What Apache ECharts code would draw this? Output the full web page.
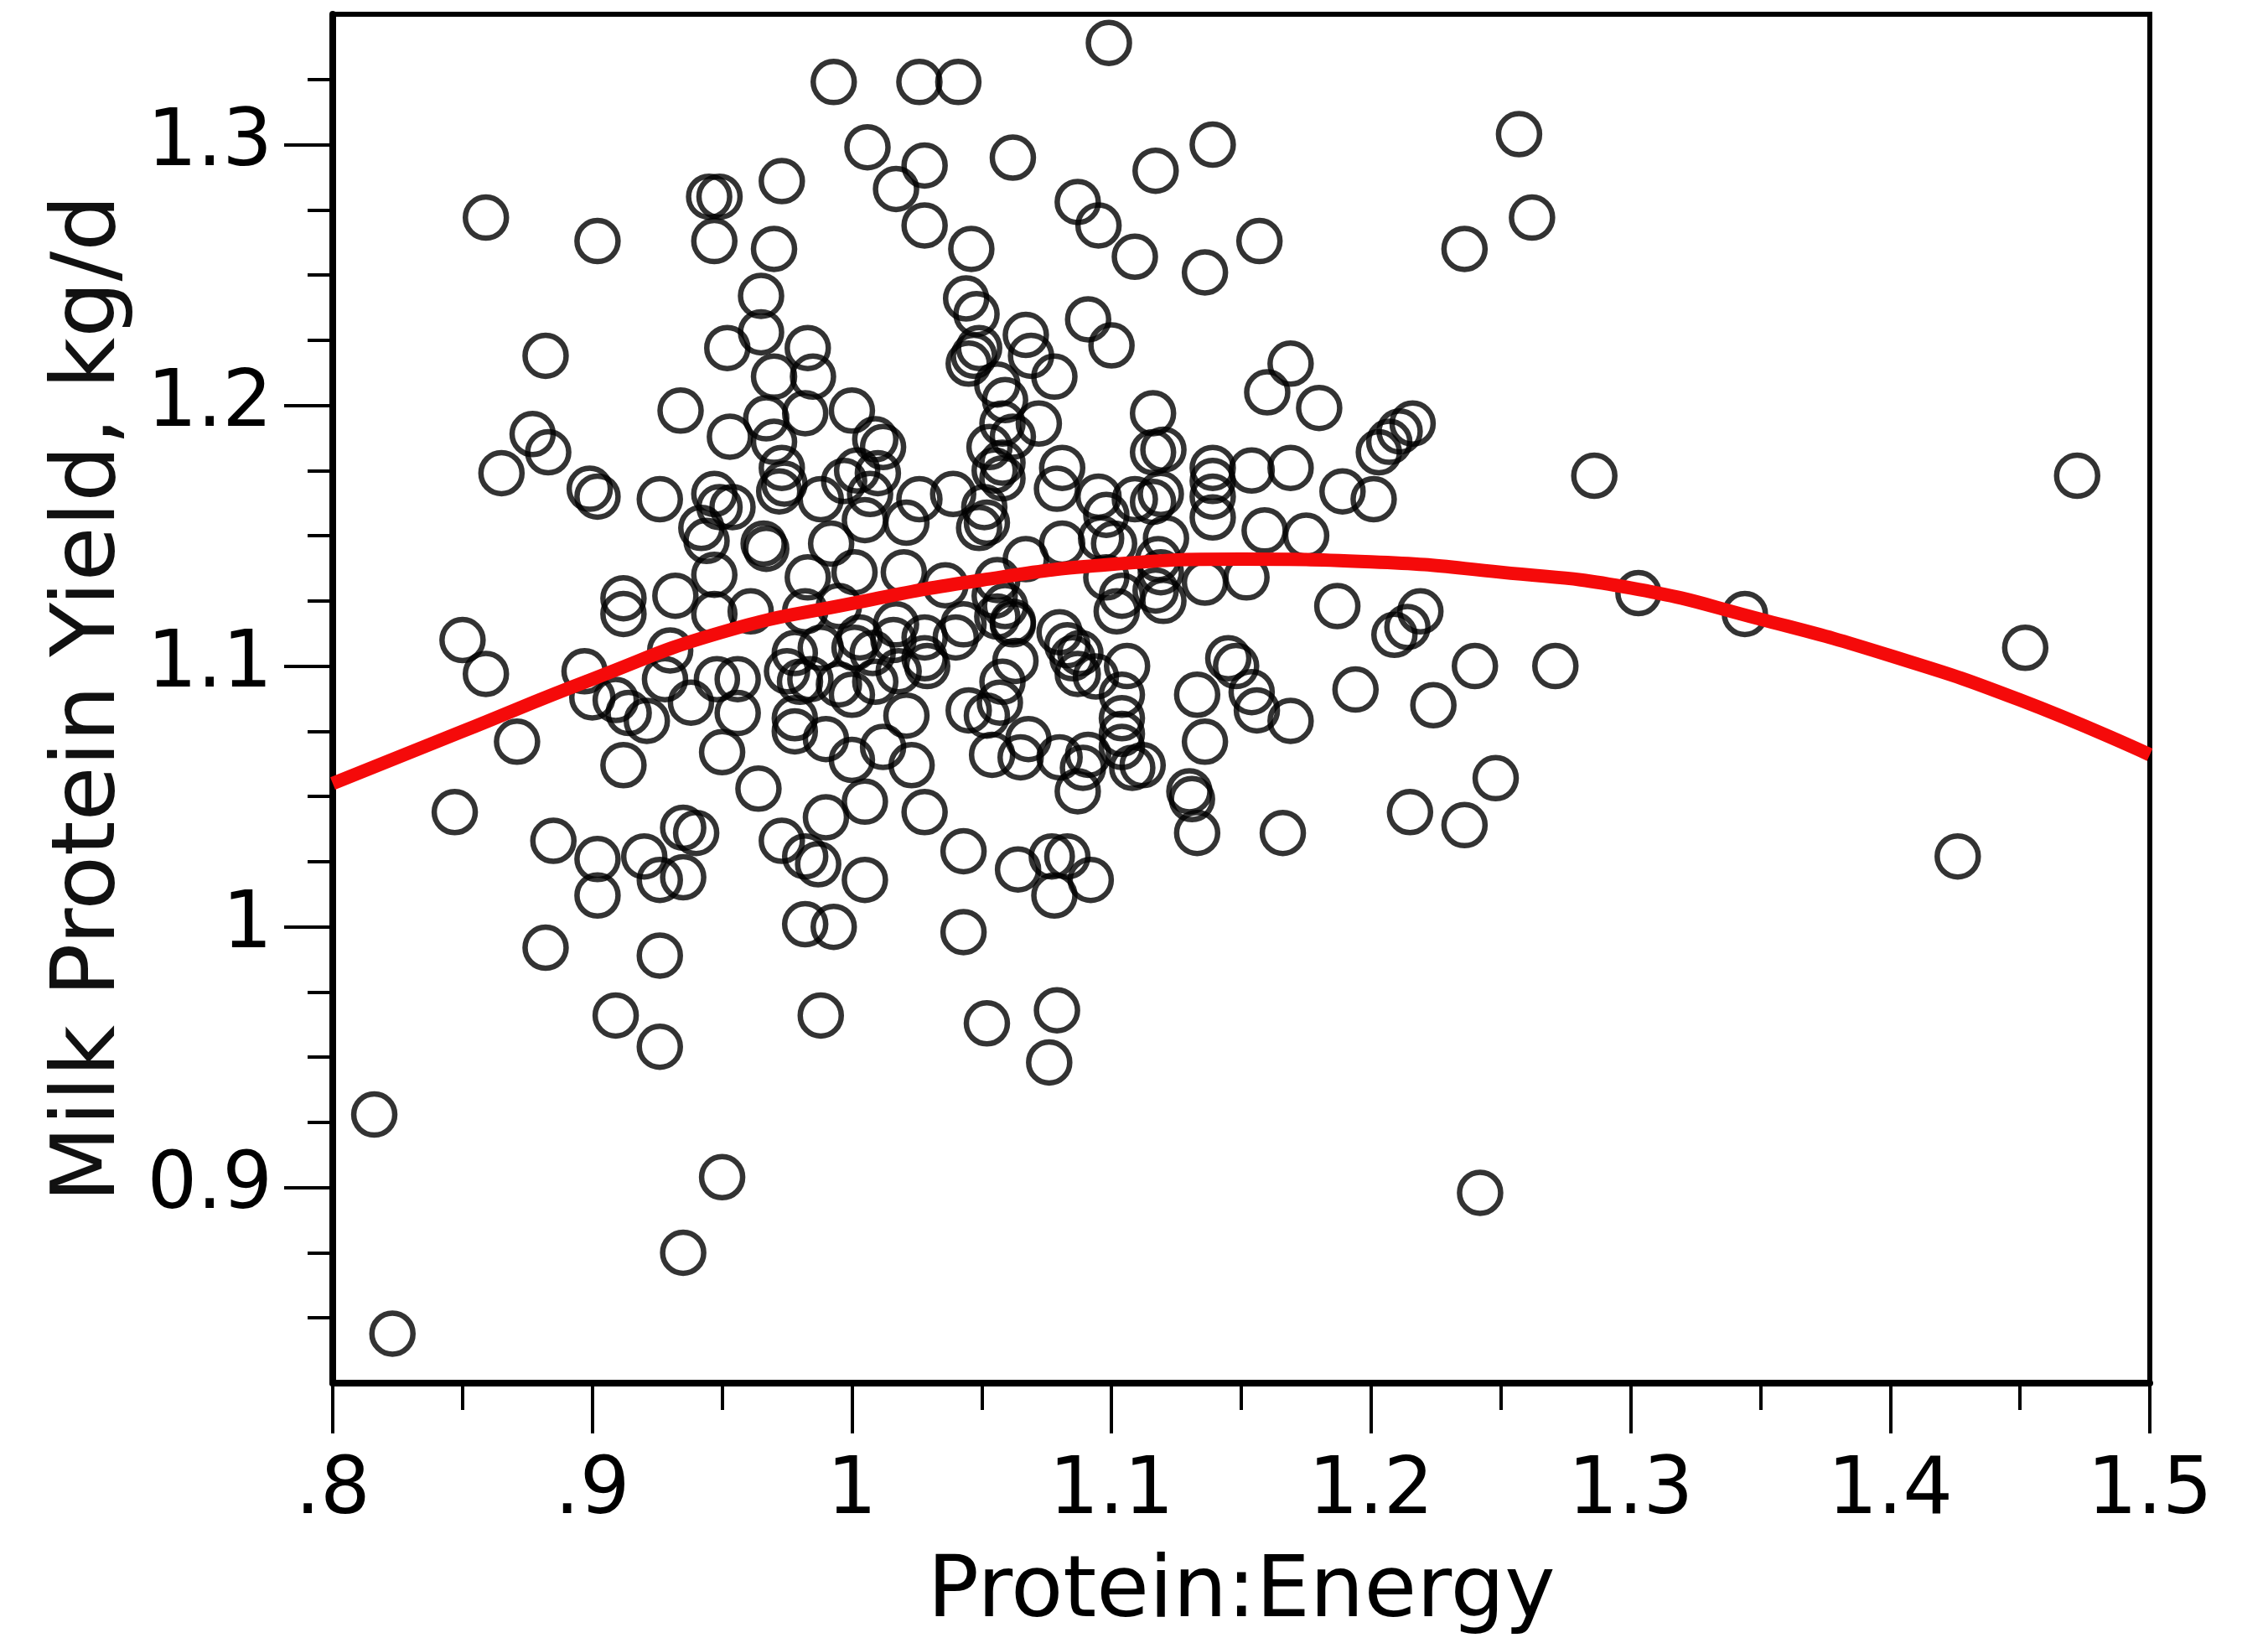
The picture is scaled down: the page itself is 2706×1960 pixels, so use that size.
<!DOCTYPE html>
<html><head><meta charset="utf-8">
<script src="https://cdn.jsdelivr.net/npm/echarts@6/dist/echarts.min.js"></script>
<style>html,body{margin:0;padding:0;background:#fff}#chart{width:2706px;height:1960px}</style>
</head><body><div id="chart"></div>
<script>
// ---- axis ticks / labels ----
const xTickValues = [0.8, 0.9, 1.0, 1.1, 1.2, 1.3, 1.4, 1.5];
const xTickLabels = ['.8', '.9', '1', '1.1', '1.2', '1.3', '1.4', '1.5'];
const xMinorTicks = [0.85, 0.95, 1.05, 1.15, 1.25, 1.35, 1.45];
const yTickValues = [0.9, 1.0, 1.1, 1.2, 1.3];
const yTickLabels = ['0.9', '1', '1.1', '1.2', '1.3'];
const yMinorTicks = [0.85, 0.875, 0.925, 0.95, 0.975, 1.025, 1.05, 1.075, 1.125, 1.15, 1.175, 1.225, 1.25, 1.275, 1.325];

// ---- observations [Protein:Energy, Milk protein yield] ----
const pointsBelow090 = [
  [0.816,0.928],[0.823,0.844],[0.850,1.110],[0.847,1.044],[0.859,1.272],[0.859,1.097],
  [0.865,1.174],[0.871,1.071],[0.877,1.189],[0.882,1.219],[0.883,1.182],[0.885,1.033],
  [0.882,0.992],[0.897,1.098]
];
const points090to095 = [
  [0.900,1.088],[0.899,1.168],[0.902,1.165],[0.902,1.263],[0.902,1.026],[0.902,1.012],
  [0.909,0.966],[0.912,1.062],[0.912,1.126],[0.912,1.120],[0.909,1.087],[0.914,1.082],
  [0.921,1.079],[0.920,1.027],[0.926,1.018],[0.926,0.989],[0.926,0.954],[0.926,1.164],
  [0.932,1.127],[0.928,1.095],[0.930,1.106],[0.934,1.198],[0.935,1.019],[0.935,1.038],
  [0.940,1.036],[0.935,0.875],[0.950,0.904],[0.942,1.153],[0.944,1.148],[0.947,1.166],
  [0.949,1.161],[0.945,1.280],[0.949,1.280],[0.947,1.263],[0.947,1.135],[0.947,1.120],
  [0.938,1.086],[0.948,1.095],[0.950,1.067]
];
const points095to100 = [
  [0.952,1.222],[0.953,1.188],[0.956,1.095],[0.956,1.082],[0.954,1.161],[0.961,1.121],
  [0.964,1.053],[0.965,1.242],[0.965,1.228],[0.966,1.147],[0.967,1.145],[0.970,1.260],
  [0.973,1.286],[0.970,1.211],[0.967,1.195],[0.970,1.186],[0.973,1.176],[0.974,1.170],
  [0.973,1.033],[0.975,1.098],[0.978,1.080],[0.978,1.075],[0.980,1.094],[0.982,1.027],
  [0.982,1.001],[0.983,1.222],[0.985,1.211],[0.982,1.197],[0.983,1.134],[0.987,1.024],
  [0.988,0.966],[0.990,1.042],[0.990,1.072],[0.988,1.164],[0.993,1.324],[0.993,1.000],
  [0.992,1.147],[0.995,1.123],[0.997,1.171],[0.978,1.105],[0.988,1.107],[0.984,1.095],
  [0.995,1.093],[0.982,1.121],[0.972,1.167]
];
const points100to105 = [
  [1.000,1.198],[1.001,1.136],[1.000,1.089],[1.005,1.048],[1.005,1.018],[1.006,1.299],
  [1.009,1.187],[1.012,1.184],[1.007,1.166],[1.005,1.156],[1.003,1.111],[1.008,1.105],
  [1.009,1.094],[1.012,1.069],[1.000,1.064],[1.001,1.107],[1.016,1.110],[1.018,1.098],
  [1.017,1.283],[1.026,1.324],[1.028,1.292],[1.028,1.269],[1.026,1.164],[1.021,1.155],
  [1.020,1.136],[1.017,1.116],[1.021,1.081],[1.023,1.062],[1.028,1.044],[1.028,1.103],
  [1.029,1.100],[1.028,1.111],[1.041,1.324],[1.039,1.166],[1.040,1.111],[1.043,1.116],
  [1.043,1.029],[1.043,0.998],[1.045,1.083],[1.044,1.241],[1.046,1.260],[1.048,1.235],
  [1.045,1.216],[1.049,1.222],[1.047,1.219],[1.036,1.131],[1.010,1.174],[1.002,1.175]
];
const points105to110 = [
  [1.051,1.161],[1.052,1.155],[1.049,1.153],[1.056,1.208],[1.059,1.202],[1.062,1.295],
  [1.055,1.175],[1.058,1.172],[1.058,1.178],[1.062,1.188],[1.058,1.193],[1.053,1.184],
  [1.052,1.081],[1.052,0.963],[1.054,1.066],[1.057,1.086],[1.056,1.133],[1.055,1.127],
  [1.056,1.119],[1.062,1.116],[1.059,1.123],[1.058,1.094],[1.063,1.102],[1.064,1.022],
  [1.065,1.065],[1.067,1.227],[1.069,1.219],[1.067,1.141],[1.072,1.193],[1.068,1.072],
  [1.078,1.211],[1.081,1.176],[1.081,1.147],[1.077,1.027],[1.083,1.027],[1.078,1.012],
  [1.079,0.968],[1.076,0.948],[1.080,1.113],[1.083,1.108],[1.088,1.105],[1.087,1.097],
  [1.087,1.052],[1.087,1.278],[1.091,1.233],[1.092,1.018],[1.091,1.066],[1.089,1.061],
  [1.095,1.269],[1.100,1.223],[1.095,1.165],[1.098,1.158],[1.099,1.339],[1.079,1.168],
  [1.085,1.103],[1.094,1.096],[1.096,1.149],[1.098,1.134],[1.080,1.065],[1.062,1.117]
];
const points110to115 = [
  [1.101,1.147],[1.104,1.127],[1.102,1.121],[1.104,1.089],[1.106,1.100],[1.104,1.080],
  [1.104,1.074],[1.104,1.069],[1.108,1.061],[1.109,1.257],[1.112,1.062],[1.116,1.197],
  [1.117,1.290],[1.116,1.182],[1.116,1.163],[1.120,1.183],[1.120,1.125],[1.118,1.141],
  [1.121,1.149],[1.119,1.136],[1.119,1.166],[1.117,1.129],[1.109,1.164],[1.130,1.052],
  [1.131,1.049],[1.133,1.036],[1.133,1.089],[1.136,1.071],[1.136,1.251],[1.139,1.300],
  [1.139,1.176],[1.139,1.171],[1.139,1.165],[1.139,1.157],[1.136,1.132],[1.145,1.103],
  [1.148,1.100]
];
const pointsAbove115 = [
  [1.152,1.134],[1.154,1.175],[1.157,1.263],[1.154,1.090],[1.156,1.083],[1.159,1.152],
  [1.160,1.205],[1.169,1.216],[1.169,1.176],[1.169,1.079],[1.166,1.036],[1.175,1.150],
  [1.180,1.199],[1.187,1.123],[1.189,1.167],[1.194,1.091],[1.201,1.164],[1.203,1.182],
  [1.207,1.186],[1.211,1.190],[1.216,1.193],[1.209,1.112],[1.214,1.115],[1.219,1.121],
  [1.215,1.044],[1.224,1.085],[1.236,1.260],[1.236,1.039],[1.240,1.100],[1.242,0.898],
  [1.248,1.057],[1.257,1.304],[1.262,1.272],[1.271,1.100],[1.286,1.173],[1.303,1.128],
  [1.344,1.120],[1.426,1.027],[1.452,1.107],[1.472,1.173]
];

// ---- fitted curve ----
const fitX = [0.80, 0.85, 0.90, 0.95, 1.00, 1.05, 1.10, 1.15, 1.20, 1.25, 1.30, 1.35, 1.40, 1.45, 1.50];
const fitY = [1.055, 1.075, 1.095, 1.113, 1.124, 1.133, 1.139, 1.141, 1.140, 1.136, 1.130, 1.118, 1.104, 1.087, 1.066];

const allPoints = [].concat(pointsBelow090, points090to095, points095to100, points100to105,
  points105to110, points110to115, pointsAbove115);
const fitLine = fitX.map((x, i) => [x, fitY[i]]);

const FONT = 'DejaVu Sans';
function labelFor(values, labels) {
  return function (v) {
    const i = values.findIndex(t => Math.abs(t - v) < 1e-6);
    return i >= 0 ? labels[i] : '';
  };
}

const chart = echarts.init(document.getElementById('chart'), null, {renderer: 'canvas'});
chart.setOption({
  animation: false,
  backgroundColor: '#fff',
  grid: {left: 397, right: 141, top: 17, bottom: 310, show: true, borderColor: '#000', borderWidth: 6, backgroundColor: 'transparent'},
  xAxis: [
    {
      type: 'value', min: 0.8, max: 1.5, position: 'bottom',
      axisLine: {show: true, lineStyle: {color: '#000', width: 8}},
      axisTick: {show: true, customValues: xTickValues, length: 60, lineStyle: {color: '#000', width: 4}},
      axisLabel: {show: true, customValues: xTickValues, formatter: labelFor(xTickValues, xTickLabels),
        fontFamily: FONT, fontSize: 94, color: '#000', margin: 84},
      splitLine: {show: false},
      name: 'Protein:Energy', nameLocation: 'middle', nameGap: 200,
      nameTextStyle: {fontFamily: FONT, fontSize: 102, color: '#000'}
    },
    {
      type: 'value', min: 0.8, max: 1.5, position: 'bottom',
      axisLine: {show: false},
      axisTick: {show: true, customValues: xMinorTicks, length: 32, lineStyle: {color: '#000', width: 4}},
      axisLabel: {show: false},
      splitLine: {show: false}
    }
  ],
  yAxis: [
    {
      type: 'value', min: 0.825, max: 1.35, position: 'left',
      axisLine: {show: true, lineStyle: {color: '#000', width: 8}},
      axisTick: {show: true, customValues: yTickValues, length: 58, lineStyle: {color: '#000', width: 4}},
      axisLabel: {show: true, customValues: yTickValues, formatter: labelFor(yTickValues, yTickLabels),
        fontFamily: FONT, fontSize: 94, color: '#000', margin: 72},
      splitLine: {show: false},
      name: 'Milk Protein Yield, kg/d', nameLocation: 'middle', nameGap: 236,
      nameTextStyle: {fontFamily: FONT, fontSize: 106, color: '#111'}
    },
    {
      type: 'value', min: 0.825, max: 1.35, position: 'left',
      axisLine: {show: false},
      axisTick: {show: true, customValues: yMinorTicks, length: 30, lineStyle: {color: '#000', width: 4}},
      axisLabel: {show: false},
      splitLine: {show: false}
    }
  ],
  series: [
    {
      type: 'scatter', xAxisIndex: 0, yAxisIndex: 0, data: allPoints,
      symbol: 'circle', symbolSize: 49, silent: true, z: 2,
      itemStyle: {color: 'rgba(255,255,255,0)', borderColor: '#000', borderWidth: 6.5}
    },
    {
      type: 'line', xAxisIndex: 0, yAxisIndex: 0, data: fitLine, smooth: true,
      showSymbol: false, silent: true, z: 3, clip: true,
      lineStyle: {color: '#f50a0a', width: 16}
    }
  ]
});
</script></body></html>
